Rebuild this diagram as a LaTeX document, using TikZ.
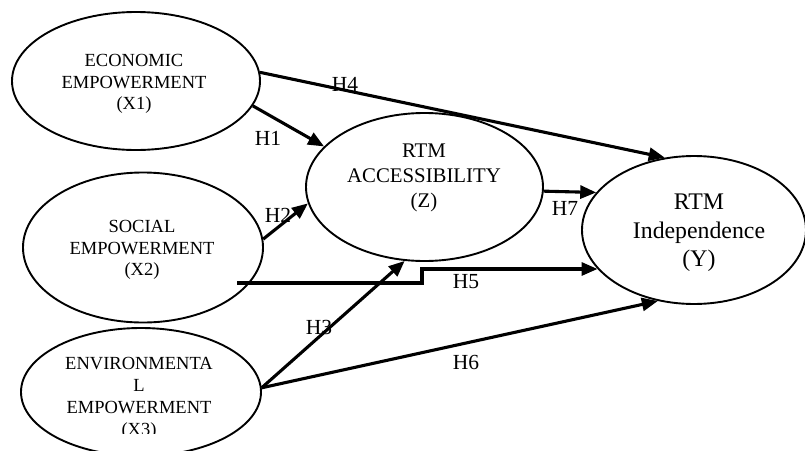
\documentclass[tikz,border=0pt]{standalone}
\usepackage{fontspec}
\setmainfont{Liberation Serif}
\usetikzlibrary{shapes.geometric,arrows.meta}
\begin{document}
\begin{tikzpicture}[x=1pt,y=-1pt,
  oval/.style={draw, ellipse, line width=1.9pt, inner sep=0pt},
  lbl/.style={inner sep=0pt, align=center},
  xfont/.style={font=\fontsize{18.5}{21.8}\selectfont},
  hyp/.style={inner sep=0pt, font=\fontsize{21.5}{24}\selectfont},
  arr/.style={line width=3.1pt, -{Triangle[length=16pt,width=13pt]}}]
\useasboundingbox (0,0) rectangle (805,450);
% ellipses
\node[oval, minimum width=248pt, minimum height=138pt] (x1) at (136,81) {};
\node[oval, minimum width=240pt, minimum height=150pt] (x2) at (143,247.5) {};
\node[oval, minimum width=240pt, minimum height=128pt] (x3) at (141,392) {};
\node[oval, minimum width=237pt, minimum height=148pt] (z) at (424.5,187) {};
\node[oval, minimum width=224pt, minimum height=148pt] (y) at (694,230) {};
% texts
\node[lbl, xfont] (x1t) at (134,84) {ECONOMIC\\EMPOWERMENT\\(X1)};
\node[lbl, xfont] (x2t) at (142,250) {SOCIAL\\EMPOWERMENT\\(X2)};
\begin{scope}
  \clip (0,0) rectangle (805,433);
  \node[lbl, xfont] (x3t) at (139,398.5) {ENVIRONMENTA\\L\\EMPOWERMENT\\(X3)};
\end{scope}
\node[lbl, font=\fontsize{20.8}{25.2}\selectfont] (zt) at (424,178) {RTM\\ACCESSIBILITY\\(Z)};
\node[lbl, font=\fontsize{23.8}{28.5}\selectfont] (yt) at (699,233) {RTM\\Independence\\(Y)};
% connectors
\coordinate (h5s) at (237,283);
\draw[arr] (x1.4) -- (y.112);
\draw[arr] (x1.-12) -- (z.158);
\draw[arr] (x2.4) -- (z.188);
\draw[arr] (x3.2) -- (z.255);
\draw[arr] (x3.2) -- (y.243);
\draw[arr] (z.-2) -- (y.159);
\draw[arr] (h5s) -- ++(185,0) |- (y.202);
% hypothesis labels
\node[hyp] (h1) at (268,138) {H1};
\node[hyp] (h2) at (278,215) {H2};
\node[hyp] (h3) at (319,327) {H3};
\node[hyp] (h4) at (345,84) {H4};
\node[hyp] (h5) at (466,282) {H5};
\node[hyp] (h6) at (466,362) {H6};
\node[hyp] (h7) at (565,208) {H7};
\end{tikzpicture}
\end{document}
